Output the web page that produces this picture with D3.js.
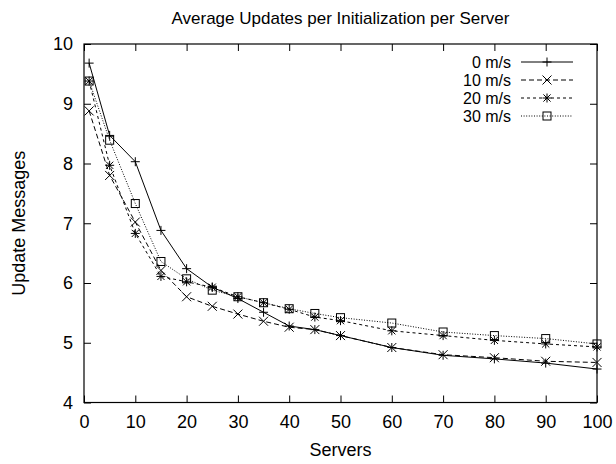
<!DOCTYPE html>
<html>
<head>
<meta charset="utf-8">
<script src="https://cdnjs.cloudflare.com/ajax/libs/d3/7.8.5/d3.min.js"></script>
<style>
  html, body { margin: 0; padding: 0; background: #fff; }
  svg text { font-family: "Liberation Sans", Arial, Helvetica, sans-serif; fill: #000; }
</style>
</head>
<body>
<svg id="chart" width="616" height="464"></svg>
<script>
// servers (x values)
let servers = [1, 5, 10, 15, 20, 25, 30, 35, 40, 45, 50, 60, 70, 80, 90, 100];

// average update messages per speed
let speed0  = [9.68, 8.47, 8.03, 6.88, 6.24, 5.93, 5.74, 5.51, 5.28, 5.22, 5.12, 4.92, 4.79, 4.73, 4.66, 4.56];
let speed10 = [8.88, 7.80, 7.02, 6.21, 5.77, 5.61, 5.48, 5.36, 5.26, 5.22, 5.12, 4.92, 4.80, 4.75, 4.69, 4.67];
let speed20 = [9.38, 7.97, 6.83, 6.11, 6.02, 5.93, 5.77, 5.67, 5.56, 5.43, 5.37, 5.20, 5.12, 5.04, 4.98, 4.93];
let speed30 = [9.38, 8.39, 7.33, 6.36, 6.07, 5.88, 5.77, 5.67, 5.57, 5.49, 5.42, 5.33, 5.18, 5.12, 5.07, 4.98];

let seriesNames = ["0 m/s", "10 m/s", "20 m/s", "30 m/s"];
let xTicks = [0, 10, 20, 30, 40, 50, 60, 70, 80, 90, 100];
let yTicks = [4, 5, 6, 7, 8, 9, 10];

let title = "Average Updates per Initialization per Server";
let xTitle = "Servers";
let yTitle = "Update Messages";

let svg = d3.select("#chart");
let margin = { top: 44, right: 19, bottom: 61.5, left: 84 };
let width = 616 - margin.left - margin.right;
let height = 464 - margin.top - margin.bottom;
let fontSize = 18;
let legendFont = 16;
let tickLen = 7;

let x = d3.scaleLinear().domain([0, 100]).range([0, width]);
let y = d3.scaleLinear().domain([4, 10]).range([height, 0]);

let g = svg.append("g")
  .attr("transform", "translate(" + margin.left + "," + margin.top + ")");

// title
svg.append("text")
  .attr("x", margin.left + width / 2)
  .attr("y", 24)
  .attr("text-anchor", "middle")
  .style("font-size", "17px")
  .text(title);

// axes: gnuplot style, ticks inward and mirrored
function tickStyle(sel) {
  sel.select(".domain").remove();
  sel.selectAll(".tick line").attr("stroke", "#000").attr("stroke-width", 1);
  sel.selectAll(".tick text").style("font-size", fontSize + "px");
}

g.append("g")
  .attr("transform", "translate(0," + height + ")")
  .call(d3.axisBottom(x).tickValues(xTicks).tickSizeInner(-tickLen).tickPadding(tickLen + 6).tickFormat(d3.format("d")))
  .call(tickStyle);

g.append("g")
  .call(d3.axisTop(x).tickValues(xTicks).tickSizeInner(-tickLen).tickFormat(""))
  .call(tickStyle);

g.append("g")
  .call(d3.axisLeft(y).tickValues(yTicks).tickSizeInner(-tickLen).tickPadding(tickLen + 4).tickFormat(d3.format("d")))
  .call(tickStyle);

g.append("g")
  .attr("transform", "translate(" + width + ",0)")
  .call(d3.axisRight(y).tickValues(yTicks).tickSizeInner(-tickLen).tickFormat(""))
  .call(tickStyle);

g.selectAll(".tick text").attr("fill", "#000");

// frame
g.append("rect")
  .attr("width", width)
  .attr("height", height)
  .attr("fill", "none")
  .attr("stroke", "#000")
  .attr("stroke-width", 1.2);

// axis titles
svg.append("text")
  .attr("x", margin.left + width / 2)
  .attr("y", 456)
  .attr("text-anchor", "middle")
  .style("font-size", fontSize + "px")
  .text(xTitle);

svg.append("text")
  .attr("transform", "translate(25," + (margin.top + height / 2) + ") rotate(-90)")
  .attr("text-anchor", "middle")
  .style("font-size", fontSize + "px")
  .text(yTitle);

// point shapes
function drawPlus(sel, r) {
  sel.append("path").attr("d", "M" + (-r) + ",0H" + r + "M0," + (-r) + "V" + r);
}
function drawCross(sel, r) {
  sel.append("path").attr("d", "M" + (-r) + "," + (-r) + "L" + r + "," + r + "M" + (-r) + "," + r + "L" + r + "," + (-r));
}
function drawStar(sel, r) {
  drawPlus(sel, r);
  drawCross(sel, r * 0.8);
}
function drawBox(sel, r) {
  sel.append("rect").attr("x", -r).attr("y", -r).attr("width", 2 * r).attr("height", 2 * r).attr("fill", "none");
}

let allSeries = [speed0, speed10, speed20, speed30];
let dashes = [null, "5,3", "3,3", "1,1.6"];
let shapes = [drawPlus, drawCross, drawStar, drawBox];

let line = d3.line()
  .x(function(d, i) { return x(servers[i]); })
  .y(function(d) { return y(d); });

allSeries.forEach(function(vals, k) {
  g.append("path")
    .attr("d", line(vals))
    .attr("fill", "none")
    .attr("stroke", "#000")
    .attr("stroke-width", 1)
    .attr("stroke-dasharray", dashes[k]);

  g.selectAll(".pt" + k)
    .data(vals)
    .enter().append("g")
      .attr("class", "pt" + k)
      .attr("transform", function(d, i) { return "translate(" + x(servers[i]) + "," + y(d) + ")"; })
      .attr("stroke", "#000")
      .attr("stroke-width", 1)
      .attr("fill", "none")
      .each(function() { shapes[k](d3.select(this), k === 3 ? 4 : 4.5); });
});

// legend
let legend = svg.append("g");
seriesNames.forEach(function(name, k) {
  let ly = 62 + k * 18;
  legend.append("text")
    .attr("x", 511)
    .attr("y", ly)
    .attr("dy", "0.35em")
    .attr("text-anchor", "end")
    .style("font-size", legendFont + "px")
    .text(name);
  legend.append("line")
    .attr("x1", 521).attr("x2", 573)
    .attr("y1", ly).attr("y2", ly)
    .attr("stroke", "#000")
    .attr("stroke-width", 1)
    .attr("stroke-dasharray", dashes[k]);
  let m = legend.append("g")
    .attr("transform", "translate(547," + ly + ")")
    .attr("stroke", "#000")
    .attr("stroke-width", 1)
    .attr("fill", "none");
  shapes[k](m, k === 3 ? 4 : 4.5);
});
</script>
</body>
</html>
